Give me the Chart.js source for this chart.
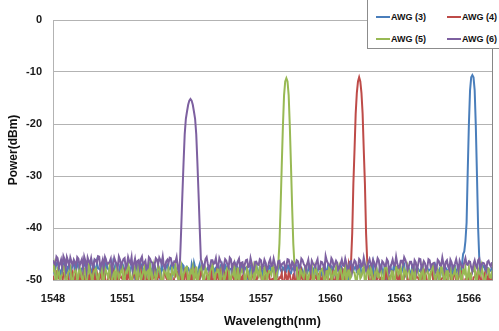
<!DOCTYPE html>
<html>
<head>
<meta charset="utf-8">
<script src="https://cdn.jsdelivr.net/npm/chart.js@4.4.0/dist/chart.umd.min.js"></script>
<style>
    body { margin: 0; background: #fff; }
    #wrap { position: relative; width: 499px; height: 331px; overflow: hidden; }
    #legend {
        position: absolute; left: 367px; top: -1px; width: 123px; height: 42px;
        border: 1px solid #8c8c8c; background: #fff; padding: 6px 0 0 8px;
        font: bold 9px "Liberation Sans", Arial, sans-serif; color: #111;
        display: grid; grid-template-columns: 71px 52px; grid-auto-rows: 22px;
        white-space: nowrap;
    }
    .item { display: flex; align-items: center; }
    .swatch { display: inline-block; width: 14px; height: 2px; margin-right: 1px; }
</style>
</head>
<body>
<div id="wrap">
    <canvas id="chart" width="499" height="331"></canvas>
    <div id="legend"></div>
</div>
<script>
var seriesNames = ["AWG (3)", "AWG (4)", "AWG (5)", "AWG (6)"];
var seriesColors = ["#4a7ebb", "#be4b48", "#98b954", "#7d60a0"];
var xTicks = [1548, 1551, 1554, 1557, 1560, 1563, 1566];
var yTicks = [0, -10, -20, -30, -40, -50];

// noise floor, read on two interleaved grids (x.x0 and x.x5 nm)
var wavelength = [
    1548.0, 1548.1, 1548.2, 1548.3, 1548.4, 1548.5, 1548.6, 1548.7, 1548.8, 1548.9,
    1549.0, 1549.1, 1549.2, 1549.3, 1549.4, 1549.5, 1549.6, 1549.7, 1549.8, 1549.9,
    1550.0, 1550.1, 1550.2, 1550.3, 1550.4, 1550.5, 1550.6, 1550.7, 1550.8, 1550.9,
    1551.0, 1551.1, 1551.2, 1551.3, 1551.4, 1551.5, 1551.6, 1551.7, 1551.8, 1551.9,
    1552.0, 1552.1, 1552.2, 1552.3, 1552.4, 1552.5, 1552.6, 1552.7, 1552.8, 1552.9,
    1553.0, 1553.1, 1553.2, 1553.3, 1553.4, 1553.5, 1553.6, 1553.7, 1553.8, 1553.9,
    1554.0, 1554.1, 1554.2, 1554.3, 1554.4, 1554.5, 1554.6, 1554.7, 1554.8, 1554.9,
    1555.0, 1555.1, 1555.2, 1555.3, 1555.4, 1555.5, 1555.6, 1555.7, 1555.8, 1555.9,
    1556.0, 1556.1, 1556.2, 1556.3, 1556.4, 1556.5, 1556.6, 1556.7, 1556.8, 1556.9,
    1557.0, 1557.1, 1557.2, 1557.3, 1557.4, 1557.5, 1557.6, 1557.7, 1557.8, 1557.9,
    1558.0, 1558.1, 1558.2, 1558.3, 1558.4, 1558.5, 1558.6, 1558.7, 1558.8, 1558.9,
    1559.0, 1559.1, 1559.2, 1559.3, 1559.4, 1559.5, 1559.6, 1559.7, 1559.8, 1559.9,
    1560.0, 1560.1, 1560.2, 1560.3, 1560.4, 1560.5, 1560.6, 1560.7, 1560.8, 1560.9,
    1561.0, 1561.1, 1561.2, 1561.3, 1561.4, 1561.5, 1561.6, 1561.7, 1561.8, 1561.9,
    1562.0, 1562.1, 1562.2, 1562.3, 1562.4, 1562.5, 1562.6, 1562.7, 1562.8, 1562.9,
    1563.0, 1563.1, 1563.2, 1563.3, 1563.4, 1563.5, 1563.6, 1563.7, 1563.8, 1563.9,
    1564.0, 1564.1, 1564.2, 1564.3, 1564.4, 1564.5, 1564.6, 1564.7, 1564.8, 1564.9,
    1565.0, 1565.1, 1565.2, 1565.3, 1565.4, 1565.5, 1565.6, 1565.7, 1565.8, 1565.9,
    1566.0, 1566.1, 1566.2, 1566.3, 1566.4, 1566.5, 1566.6, 1566.7, 1566.8, 1566.9,
    1567.0
];

var wavelengthMid = [
    1548.05, 1548.15, 1548.25, 1548.35, 1548.45, 1548.55, 1548.65, 1548.75, 1548.85, 1548.95,
    1549.05, 1549.15, 1549.25, 1549.35, 1549.45, 1549.55, 1549.65, 1549.75, 1549.85, 1549.95,
    1550.05, 1550.15, 1550.25, 1550.35, 1550.45, 1550.55, 1550.65, 1550.75, 1550.85, 1550.95,
    1551.05, 1551.15, 1551.25, 1551.35, 1551.45, 1551.55, 1551.65, 1551.75, 1551.85, 1551.95,
    1552.05, 1552.15, 1552.25, 1552.35, 1552.45, 1552.55, 1552.65, 1552.75, 1552.85, 1552.95,
    1553.05, 1553.15, 1553.25, 1553.35, 1553.45, 1553.55, 1553.65, 1553.75, 1553.85, 1553.95,
    1554.05, 1554.15, 1554.25, 1554.35, 1554.45, 1554.55, 1554.65, 1554.75, 1554.85, 1554.95,
    1555.05, 1555.15, 1555.25, 1555.35, 1555.45, 1555.55, 1555.65, 1555.75, 1555.85, 1555.95,
    1556.05, 1556.15, 1556.25, 1556.35, 1556.45, 1556.55, 1556.65, 1556.75, 1556.85, 1556.95,
    1557.05, 1557.15, 1557.25, 1557.35, 1557.45, 1557.55, 1557.65, 1557.75, 1557.85, 1557.95,
    1558.05, 1558.15, 1558.25, 1558.35, 1558.45, 1558.55, 1558.65, 1558.75, 1558.85, 1558.95,
    1559.05, 1559.15, 1559.25, 1559.35, 1559.45, 1559.55, 1559.65, 1559.75, 1559.85, 1559.95,
    1560.05, 1560.15, 1560.25, 1560.35, 1560.45, 1560.55, 1560.65, 1560.75, 1560.85, 1560.95,
    1561.05, 1561.15, 1561.25, 1561.35, 1561.45, 1561.55, 1561.65, 1561.75, 1561.85, 1561.95,
    1562.05, 1562.15, 1562.25, 1562.35, 1562.45, 1562.55, 1562.65, 1562.75, 1562.85, 1562.95,
    1563.05, 1563.15, 1563.25, 1563.35, 1563.45, 1563.55, 1563.65, 1563.75, 1563.85, 1563.95,
    1564.05, 1564.15, 1564.25, 1564.35, 1564.45, 1564.55, 1564.65, 1564.75, 1564.85, 1564.95,
    1565.05, 1565.15, 1565.25, 1565.35, 1565.45, 1565.55, 1565.65, 1565.75, 1565.85, 1565.95,
    1566.05, 1566.15, 1566.25, 1566.35, 1566.45, 1566.55, 1566.65, 1566.75, 1566.85, 1566.95
];

var noise3 = [
    -47.0, -47.8, -46.5, -48.2, -47.4, -46.8, -48.6, -47.2, -47.9, -46.6,
    -48.1, -47.3, -49.0, -47.6, -46.9, -48.4, -47.1, -48.8, -47.5, -46.7,
    -47.9, -48.5, -47.2, -46.6, -48.0, -47.7, -49.3, -47.0, -48.3, -47.4,
    -46.8, -48.2, -47.5, -48.9, -47.1, -47.8, -46.9, -48.6, -47.3, -50.6,
    -47.6, -48.0, -46.7, -48.4, -47.2, -49.1, -47.8, -47.0, -48.5, -47.4,
    -48.1, -47.3, -46.9, -48.7, -47.6, -48.2, -47.0, -49.0, -47.5, -48.3,
    -47.1, -46.6, -48.4, -47.8, -49.2, -47.3, -48.0, -47.6, -48.8, -47.2,
    -48.5, -47.4, -48.1, -46.9, -48.7, -47.5, -50.8, -47.9, -48.3, -47.0,
    -47.7, -48.6, -47.2, -48.0, -47.5, -49.1, -47.8, -48.4, -47.1, -48.9,
    -47.6, -48.2, -47.0, -48.8, -47.4, -48.1, -47.7, -49.4, -47.3, -48.5,
    -47.9, -48.4, -47.2, -48.7, -47.6, -48.0, -50.9, -47.5, -48.3, -47.8,
    -48.6, -47.1, -48.2, -47.7, -49.0, -47.4, -48.5, -47.9, -48.1, -47.3,
    -48.8, -47.6, -48.3, -47.2, -48.9, -47.8, -48.0, -47.5, -49.3, -47.9,
    -48.2, -47.4, -48.7, -47.0, -48.4, -47.7, -48.1, -47.3, -48.6, -50.7,
    -47.8, -48.5, -47.1, -48.9, -47.6, -48.2, -47.4, -48.7, -47.9, -48.0,
    -47.5, -48.3, -47.0, -48.6, -47.7, -49.2, -47.3, -48.1, -47.8, -48.4,
    -47.2, -48.8, -47.6, -48.0, -47.4, -48.5, -47.9, -50.8, -47.5, -48.2,
    -47.7, -48.4, -47.1, -48.6, -47.3, -48.0, -47.8, -48.3, -47.5, -48.1,
    -47.6, -48.2, -47.0, -48.5, -47.4, -48.9, -47.2, -48.0, -47.7, -48.3,
    -47.5
];
var noise3Mid = [
    -48.3, -46.9, -47.7, -49.1, -46.8, -48.0, -47.4, -49.5, -47.0, -48.2,
    -46.7, -48.6, -47.8, -46.9, -49.2, -47.5, -48.3, -46.8, -50.4, -47.6,
    -48.1, -47.0, -49.0, -47.6, -48.4, -46.8, -48.0, -47.3, -49.3, -47.8,
    -47.4, -49.1, -46.9, -48.3, -47.7, -49.6, -47.2, -48.1, -47.0, -48.8,
    -49.2, -47.3, -48.6, -46.9, -48.0, -47.5, -50.3, -47.9, -48.4, -47.1,
    -47.8, -48.9, -47.2, -48.1, -47.6, -49.0, -47.3, -48.5, -47.7, -49.2,
    -48.3, -47.5, -49.4, -47.0, -48.6, -47.9, -48.2, -47.4, -50.5, -47.8,
    -47.6, -49.0, -47.3, -48.4, -47.1, -48.9, -47.8, -48.1, -47.4, -49.3,
    -48.2, -47.1, -48.8, -47.6, -50.2, -47.4, -48.5, -47.9, -48.3, -47.5,
    -49.1, -47.7, -48.3, -47.2, -48.6, -47.8, -49.5, -47.3, -48.0, -47.6,
    -48.5, -47.2, -49.0, -47.9, -48.2, -47.4, -48.7, -47.6, -50.6, -47.8,
    -48.0, -47.5, -48.9, -47.3, -48.4, -47.7, -49.2, -47.1, -48.6, -47.9,
    -47.4, -49.1, -47.8, -48.3, -47.2, -48.8, -47.6, -50.3, -47.9, -48.1,
    -47.6, -48.5, -47.3, -49.0, -47.8, -48.2, -47.5, -48.9, -47.1, -48.4,
    -49.3, -47.6, -48.1, -47.4, -50.4, -47.9, -48.3, -47.2, -48.7, -47.7,
    -48.0, -47.3, -49.1, -47.8, -48.5, -47.1, -48.9, -47.6, -48.2, -47.5,
    -48.6, -47.4, -48.3, -47.9, -49.4, -47.2, -48.0, -47.7, -48.8, -47.3,
    -48.1, -47.6, -49.2, -47.4, -48.5, -47.8, -48.3, -47.5, -48.9, -47.7,
    -47.9, -48.4, -47.3, -48.7, -47.6, -48.1, -47.4, -49.0, -47.8, -48.2
];

var noise4 = [
    -49.2, -50.6, -48.4, -49.8, -51.0, -48.7, -49.5, -50.8, -48.9, -50.2,
    -48.5, -49.9, -51.2, -48.8, -50.4, -49.1, -48.3, -50.9, -49.6, -48.6,
    -50.5, -49.0, -48.2, -51.1, -49.4, -50.1, -48.7, -49.8, -51.3, -48.9,
    -49.7, -48.4, -50.6, -49.2, -51.0, -48.6, -50.3, -49.5, -48.1, -50.9,
    -49.1, -50.7, -48.5, -49.9, -48.3, -51.2, -49.4, -50.0, -48.8, -49.6,
    -50.4, -48.9, -51.1, -49.3, -48.6, -50.2, -49.7, -48.2, -50.8, -49.0,
    -48.7, -50.5, -49.2, -51.3, -48.4, -49.8, -50.6, -48.9, -49.5, -51.0,
    -49.3, -48.1, -50.7, -49.6, -48.8, -51.2, -49.0, -50.3, -48.5, -49.9,
    -50.8, -48.6, -49.4, -51.1, -48.3, -50.0, -49.7, -48.7, -50.5, -49.2,
    -48.9, -50.6, -49.1, -48.4, -51.0, -49.8, -48.2, -50.4, -49.5, -48.7,
    -50.9, -49.3, -48.6, -50.2, -49.0, -51.3, -48.5, -49.7, -50.1, -48.8,
    -49.6, -51.1, -48.3, -50.0, -49.4, -48.9, -50.7, -49.2, -48.4, -51.0,
    -49.8, -48.6, -50.5, -49.1, -48.2, -50.9, -49.5, -48.7, -46.9, -50.3,
    -48.8, -49.9, -50.6, -49.3, -48.5, -50.2, -49.0, -51.2, -48.6, -49.7,
    -50.4, -48.9, -49.6, -51.0, -48.3, -50.1, -49.2, -48.7, -50.8, -49.4,
    -48.5, -50.7, -49.0, -48.4, -51.1, -49.7, -50.3, -48.8, -49.5, -51.2,
    -49.1, -48.6, -50.5, -49.8, -48.2, -50.9, -49.3, -48.7, -50.0, -49.6,
    -50.6, -48.9, -49.4, -51.0, -48.5, -50.2, -49.1, -48.3, -50.8, -49.7,
    -48.4, -50.3, -49.5, -48.8, -51.1, -49.0, -50.6, -48.6, -49.9, -50.4,
    -49.3
];
var noise4Mid = [
    -50.9, -48.3, -49.7, -51.3, -48.6, -50.1, -49.0, -51.1, -48.4, -49.8,
    -51.0, -48.7, -50.3, -49.2, -48.5, -51.4, -49.6, -48.2, -50.7, -49.4,
    -48.8, -51.2, -49.3, -50.6, -48.4, -49.9, -51.0, -48.6, -50.2, -49.5,
    -51.3, -49.1, -48.5, -50.8, -49.7, -48.3, -51.1, -49.0, -50.5, -48.7,
    -50.3, -48.6, -51.2, -49.4, -50.9, -48.8, -49.6, -51.4, -48.4, -50.0,
    -48.9, -51.0, -49.5, -48.3, -50.7, -49.1, -51.3, -48.6, -50.1, -49.7,
    -51.1, -48.4, -50.2, -49.6, -48.7, -51.2, -49.3, -50.5, -48.5, -49.9,
    -50.8, -49.2, -48.6, -51.3, -49.8, -48.4, -50.4, -49.0, -51.0, -48.7,
    -49.5, -51.2, -48.9, -50.0, -49.3, -51.4, -48.5, -50.6, -49.1, -48.3,
    -51.0, -49.4, -50.7, -48.6, -49.9, -51.3, -48.8, -50.2, -49.6, -51.1,
    -48.5, -50.4, -49.1, -51.2, -48.7, -50.0, -49.5, -48.4, -51.0, -49.8,
    -50.6, -48.9, -51.3, -49.2, -50.8, -48.6, -49.7, -51.1, -48.3, -50.1,
    -49.3, -51.0, -48.7, -50.4, -49.9, -48.5, -51.2, -49.0, -48.0, -50.6,
    -50.2, -49.4, -51.1, -48.8, -50.5, -49.0, -48.6, -50.9, -49.3, -51.2,
    -48.6, -50.3, -49.7, -51.3, -48.9, -50.0, -49.2, -51.0, -48.5, -50.7,
    -49.8, -51.2, -48.4, -50.5, -49.1, -48.7, -51.4, -49.5, -50.2, -48.6,
    -51.0, -49.3, -50.8, -48.5, -49.9, -51.1, -48.8, -50.4, -49.6, -48.3,
    -50.9, -49.0, -51.3, -48.7, -50.1, -49.5, -48.4, -51.0, -49.8, -50.5,
    -48.8, -51.2, -49.4, -50.0, -48.6, -50.8, -49.1, -51.3, -48.9, -50.2
];

var noise5 = [
    -48.5, -49.6, -47.8, -50.4, -48.9, -47.6, -49.8, -48.2, -50.6, -48.7,
    -47.9, -49.3, -48.4, -50.2, -47.7, -49.0, -48.6, -50.7, -48.1, -49.4,
    -48.8, -47.5, -50.3, -48.3, -49.7, -47.9, -48.9, -50.5, -48.0, -49.2,
    -47.6, -49.9, -48.5, -47.8, -50.6, -48.7, -49.1, -47.4, -50.1, -48.4,
    -49.5, -48.0, -47.3, -50.4, -48.6, -49.3, -47.7, -50.8, -48.2, -49.0,
    -47.9, -50.2, -48.8, -47.2, -49.6, -48.1, -50.5, -48.4, -47.5, -49.8,
    -48.6, -50.3, -47.4, -49.2, -48.0, -50.7, -47.8, -49.5, -48.3, -47.1,
    -50.1, -48.5, -49.4, -47.7, -50.6, -48.2, -47.5, -49.9, -48.8, -50.4,
    -47.6, -49.1, -48.4, -50.5, -47.9, -49.7, -48.1, -50.2, -47.4, -49.3,
    -48.7, -50.6, -47.3, -49.0, -48.5, -47.0, -50.3, -48.2, -49.6, -47.8,
    -48.9, -47.5, -50.1, -48.3, -49.4, -47.6, -50.7, -48.0, -49.2, -47.7,
    -50.4, -48.6, -47.2, -49.8, -48.1, -50.5, -47.9, -49.0, -48.4, -50.2,
    -47.5, -49.6, -48.8, -50.3, -47.3, -49.1, -48.2, -50.6, -47.8, -49.4,
    -48.5, -50.0, -47.6, -49.7, -48.3, -50.8, -47.4, -49.2, -48.7, -50.1,
    -47.7, -49.5, -48.0, -50.4, -47.2, -48.9, -50.6, -48.4, -49.8, -47.5,
    -48.6, -50.2, -47.9, -49.3, -48.1, -50.7, -47.6, -49.0, -48.5, -50.3,
    -47.4, -49.7, -48.2, -50.5, -47.8, -49.1, -48.8, -50.0, -47.3, -49.6,
    -48.4, -50.6, -47.7, -49.2, -48.0, -50.3, -47.5, -49.8, -48.6, -50.1,
    -47.6, -49.4, -48.3, -50.7, -47.9, -49.0, -48.5, -50.4, -47.8, -49.5,
    -48.2
];
var noise5Mid = [
    -47.2, -50.8, -48.1, -49.3, -47.4, -50.5, -48.6, -47.6, -51.0, -48.3,
    -50.4, -47.5, -49.6, -48.0, -50.9, -47.3, -49.1, -48.7, -47.8, -50.6,
    -48.4, -50.7, -47.7, -49.0, -47.2, -50.3, -48.5, -47.4, -49.7, -48.1,
    -50.5, -48.2, -47.0, -49.8, -48.6, -47.5, -50.9, -48.0, -49.3, -47.6,
    -48.3, -50.2, -48.8, -47.4, -49.9, -47.1, -48.7, -50.4, -47.6, -49.5,
    -50.7, -47.8, -49.2, -48.5, -50.1, -47.3, -48.9, -47.6, -50.5, -48.2,
    -47.5, -49.1, -50.8, -48.0, -47.2, -49.6, -48.4, -50.3, -47.7, -49.0,
    -48.6, -47.3, -50.5, -48.2, -49.4, -47.5, -50.9, -48.1, -47.4, -49.7,
    -50.2, -48.0, -47.6, -49.8, -48.5, -50.6, -47.3, -49.2, -48.7, -47.5,
    -49.9, -47.7, -50.4, -48.3, -49.0, -47.4, -50.8, -48.6, -47.9, -49.5,
    -48.2, -50.3, -47.5, -49.1, -48.8, -47.6, -50.7, -48.4, -49.6, -47.3,
    -49.7, -48.1, -50.5, -47.4, -49.2, -48.6, -47.8, -50.9, -48.3, -47.5,
    -50.1, -48.4, -47.6, -49.5, -48.0, -50.6, -47.3, -48.9, -49.8, -47.7,
    -48.6, -50.4, -47.9, -49.3, -47.2, -50.0, -48.5, -47.6, -50.8, -48.2,
    -49.4, -47.5, -50.6, -48.1, -47.8, -49.9, -48.3, -50.5, -47.4, -49.0,
    -47.7, -50.3, -48.6, -47.3, -49.6, -48.0, -50.9, -47.5, -49.2, -48.4,
    -50.5, -47.6, -49.0, -48.7, -47.2, -50.2, -48.1, -49.7, -47.9, -50.6,
    -48.3, -47.4, -50.1, -48.8, -49.5, -47.7, -50.7, -48.0, -47.6, -49.3,
    -50.4, -48.2, -47.5, -49.9, -48.6, -47.3, -50.2, -48.9, -47.8, -49.6
];

var noise6 = [
    -46.2, -47.1, -45.8, -46.9, -47.6, -46.0, -45.6, -47.3, -46.5, -46.1,
    -47.4, -45.9, -46.6, -47.8, -46.3, -45.7, -46.8, -47.2, -46.0, -46.7,
    -45.5, -46.9, -47.5, -46.2, -46.8, -45.9, -47.0, -46.4, -47.7, -46.1,
    -46.6, -45.8, -47.2, -46.4, -45.6, -46.9, -47.4, -46.2, -46.0, -47.1,
    -46.3, -47.6, -45.9, -46.7, -47.0, -46.1, -45.7, -46.9, -47.3, -46.4,
    -46.8, -45.8, -47.1, -46.5, -47.5, -46.2, -45.9, -46.6, -47.2, -46.3,
    -47.0, -46.4, -46.1, -47.3, -46.6, -47.8, -46.0, -46.9, -47.4, -46.2,
    -46.7, -47.5, -45.8, -46.8, -47.1, -46.3, -47.6, -46.0, -46.9, -47.2,
    -46.4, -47.8, -46.6, -47.0, -46.1, -47.4, -46.8, -47.9, -46.5, -47.1,
    -46.2, -47.3, -46.7, -47.6, -46.0, -47.2, -46.9, -47.7, -46.3, -47.0,
    -46.6, -47.4, -46.1, -47.8, -46.8, -47.0, -46.4, -47.5, -46.2, -47.3,
    -46.9, -47.7, -46.3, -47.1, -46.6, -47.9, -46.5, -47.2, -45.4, -46.8,
    -47.4, -46.2, -47.0, -46.7, -47.6, -46.1, -47.3, -46.8, -47.8, -46.4,
    -47.1, -46.5, -47.7, -46.3, -47.2, -46.9, -47.5, -46.0, -47.4, -46.6,
    -47.0, -46.2, -47.8, -46.7, -47.3, -46.4, -47.6, -46.1, -47.2, -46.8,
    -47.5, -46.3, -45.6, -46.9, -47.4, -46.5, -47.9, -46.6, -47.1, -46.0,
    -47.3, -46.8, -47.6, -46.2, -47.0, -46.7, -47.8, -46.4, -47.2, -46.9,
    -46.5, -47.4, -46.1, -47.7, -46.8, -47.1, -46.3, -47.5, -46.6, -47.0,
    -46.4, -47.6, -46.9, -47.2, -46.2, -47.8, -46.7, -47.3, -46.5, -47.0,
    -46.6
];
var noise6Mid = [
    -46.8, -45.5, -47.6, -46.1, -45.4, -47.9, -46.3, -45.7, -47.2, -46.6,
    -45.6, -47.3, -46.0, -45.5, -48.1, -46.4, -45.8, -47.5, -46.2, -45.4,
    -47.8, -46.1, -45.6, -47.0, -46.5, -48.3, -45.7, -46.9, -45.5, -47.4,
    -46.0, -47.7, -45.6, -46.8, -48.0, -45.9, -46.4, -47.6, -45.5, -46.7,
    -47.9, -45.6, -46.5, -48.2, -45.8, -47.0, -46.2, -45.5, -47.8, -46.1,
    -45.7, -47.2, -46.4, -45.6, -48.4, -46.6, -47.1, -45.8, -46.9, -47.5,
    -46.3, -47.0, -45.9, -46.6, -46.8, -47.4, -45.6, -48.0, -46.2, -46.9,
    -45.8, -47.6, -46.4, -48.3, -46.0, -47.1, -45.7, -47.9, -46.5, -47.3,
    -45.9, -46.7, -48.1, -46.2, -47.5, -45.8, -48.4, -46.5, -47.0, -46.0,
    -47.8, -46.1, -48.0, -46.6, -47.3, -45.9, -48.2, -46.4, -47.6, -46.8,
    -47.9, -46.0, -47.2, -46.5, -48.3, -46.2, -47.7, -45.9, -46.9, -48.1,
    -46.1, -48.4, -46.8, -47.5, -46.0, -47.9, -46.6, -48.2, -46.3, -47.1,
    -45.8, -47.6, -46.3, -48.0, -46.9, -47.2, -45.9, -47.8, -46.5, -48.3,
    -46.2, -47.9, -46.0, -47.4, -45.7, -48.1, -46.6, -47.0, -46.1, -47.7,
    -45.8, -48.2, -46.4, -47.3, -46.0, -48.5, -46.9, -47.1, -45.5, -47.6,
    -46.3, -47.0, -46.1, -48.0, -46.5, -47.4, -46.2, -48.3, -45.9, -47.8,
    -46.4, -48.1, -46.0, -47.5, -46.8, -48.4, -46.1, -47.2, -45.7, -47.9,
    -46.2, -48.0, -46.6, -47.3, -46.0, -48.2, -46.9, -47.6, -45.8, -47.1,
    -46.5, -48.3, -46.2, -47.7, -45.9, -47.0, -46.8, -48.1, -46.3, -47.4
];

// channel peaks, read every 0.05 nm
var peakX3 = [1565.7, 1565.75, 1565.8, 1565.85, 1565.9, 1565.95, 1566.0, 1566.05,
    1566.1, 1566.15, 1566.2, 1566.25, 1566.3, 1566.35, 1566.4, 1566.45];
var peakY3 = [-47, -45, -44.5, -42.5, -39, -29, -20, -13.5,
    -11, -10.6, -11, -13.5, -20.5, -30, -40, -46];

var peakX4 = [1560.9, 1560.95, 1561.0, 1561.05, 1561.1, 1561.15, 1561.2, 1561.25,
    1561.3, 1561.35, 1561.4, 1561.45, 1561.5, 1561.55, 1561.6];
var peakY4 = [-46.5, -41, -31.5, -25, -18, -14, -11.8, -11.0,
    -11.8, -14, -18, -25, -31.5, -41, -46.5];

var peakX5 = [1557.75, 1557.8, 1557.85, 1557.9, 1557.95, 1558.0, 1558.05, 1558.1,
    1558.15, 1558.2, 1558.25, 1558.3, 1558.35, 1558.4, 1558.45];
var peakY5 = [-47, -43, -36, -28, -20.5, -14.5, -11.8, -11.2,
    -11.8, -14.5, -20.5, -28, -36, -43, -47];

var peakX6 = [1553.5, 1553.55, 1553.6, 1553.65, 1553.7, 1553.75, 1553.8, 1553.85, 1553.9, 1553.95,
    1554.0, 1554.05, 1554.1, 1554.15, 1554.2, 1554.25, 1554.3, 1554.35, 1554.4];
var peakY6 = [-46, -40, -33.5, -27.5, -22, -19, -17.6, -16.3, -15.5, -15.2,
    -15.5, -16.3, -17.6, -19, -22, -27.5, -33.5, -40, -46];

function addOutside(pts, xs, ys, px) {
    for (var i = 0; i < xs.length; i++) {
        if (xs[i] < px[0] || xs[i] > px[px.length - 1]) {
            pts.push({ x: xs[i], y: ys[i] });
        }
    }
}

function buildSeries(noise, noiseMid, px, py) {
    var pts = [];
    addOutside(pts, wavelength, noise, px);
    addOutside(pts, wavelengthMid, noiseMid, px);
    for (var j = 0; j < px.length; j++) {
        pts.push({ x: px[j], y: py[j] });
    }
    pts.sort(function (a, b) { return a.x - b.x; });
    return pts;
}

var allData = [
    buildSeries(noise3, noise3Mid, peakX3, peakY3),
    buildSeries(noise4, noise4Mid, peakX4, peakY4),
    buildSeries(noise5, noise5Mid, peakX5, peakY5),
    buildSeries(noise6, noise6Mid, peakX6, peakY6),
];

var datasets = seriesNames.map(function (name, i) {
    return {
        label: name,
        data: allData[i],
        borderColor: seriesColors[i],
        backgroundColor: seriesColors[i],
        borderWidth: 2,
        pointRadius: 0,
        tension: 0,
        clip: 0,
        order: seriesNames.length - i, // last series drawn on top, like the original
    };
});

var rightFrame = {
    id: "rightFrame",
    afterDatasetsDraw: function (chart) {
        var a = chart.chartArea;
        var ctx = chart.ctx;
        ctx.save();
        ctx.strokeStyle = "#868686";
        ctx.lineWidth = 1;
        ctx.beginPath();
        ctx.moveTo(Math.round(a.right) + 0.5, a.top);
        ctx.lineTo(Math.round(a.right) + 0.5, a.bottom);
        ctx.stroke();
        ctx.restore();
    },
};

var font = "'Liberation Sans', Arial, sans-serif";

new Chart(document.getElementById("chart"), {
    type: "line",
    data: { datasets: datasets },
    options: {
        responsive: false,
        animation: false,
        layout: { padding: { top: 20, right: 7, left: 0, bottom: 0 } },
        plugins: { legend: { display: false }, tooltip: { enabled: false } },
        scales: {
            x: {
                type: "linear",
                min: 1548,
                max: 1567,
                afterBuildTicks: function (scale) {
                    scale.ticks = xTicks.map(function (v) { return { value: v }; });
                },
                afterFit: function (scale) { scale.height = 51; },
                grid: { display: false, drawTicks: false },
                border: { color: "#b3b3b3" },
                ticks: {
                    padding: 12,
                    maxRotation: 0,
                    autoSkip: false,
                    color: "#1a1a1a",
                    font: { family: font, size: 11, weight: "bold" },
                    callback: function (v) { return String(v); },
                },
                title: {
                    display: true,
                    text: "Wavelength(nm)",
                    color: "#111",
                    padding: { top: 0, bottom: 2 },
                    font: { family: font, size: 12.5, weight: "bold" },
                },
            },
            y: {
                min: -50,
                max: 0,
                afterBuildTicks: function (scale) {
                    scale.ticks = yTicks.map(function (v) { return { value: v }; });
                },
                afterFit: function (scale) { scale.width = 53; },
                grid: { color: "#b3b3b3", drawTicks: false },
                border: { color: "#b3b3b3" },
                ticks: {
                    padding: 11,
                    color: "#1a1a1a",
                    font: { family: font, size: 11, weight: "bold" },
                },
                title: {
                    display: true,
                    text: "Power(dBm)",
                    color: "#111",
                    padding: { top: 6, bottom: 0 },
                    font: { family: font, size: 12, weight: "bold" },
                },
            },
        },
    },
    plugins: [rightFrame],
});

// legend box sits over the top-right corner of the plot
var legend = document.getElementById("legend");
seriesNames.forEach(function (name, i) {
    var item = document.createElement("span");
    item.className = "item";
    item.innerHTML = '<span class="swatch" style="background:' + seriesColors[i] + '"></span>' + name;
    legend.appendChild(item);
});
</script>
</body>
</html>
